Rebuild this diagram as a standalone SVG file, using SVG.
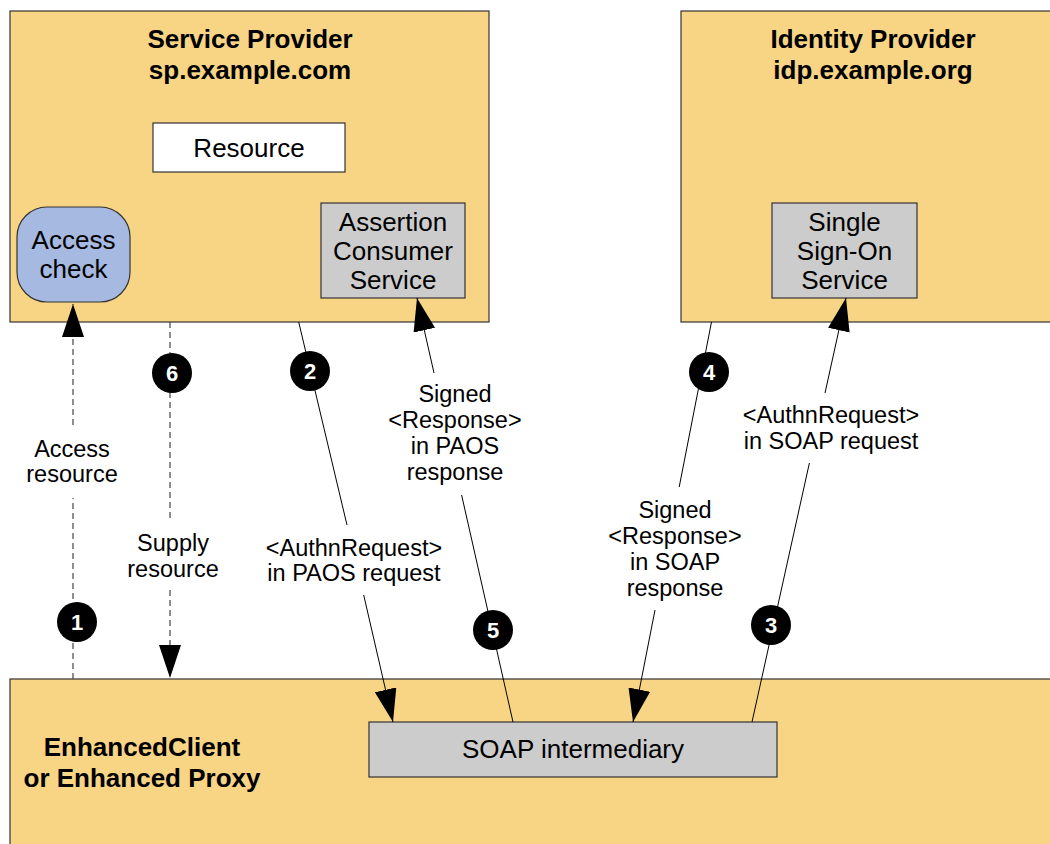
<svg xmlns="http://www.w3.org/2000/svg" width="1050" height="844" viewBox="0 0 1050 844">
<defs>
<style>
.box{fill:#f8d585;stroke:#333;stroke-width:1.2}
.svc{fill:#cccccc;stroke:#333;stroke-width:1.2}
.res{fill:#ffffff;stroke:#333;stroke-width:1.2}
.chk{fill:#a6b9e1;stroke:#333;stroke-width:1.2}
.title{font-family:"Liberation Sans",Arial,sans-serif;font-weight:bold;font-size:26px;fill:#000;text-anchor:middle}
.node{font-family:"Liberation Sans",Arial,sans-serif;font-size:26px;fill:#000;text-anchor:middle}
.lbl{font-family:"Liberation Sans",Arial,sans-serif;font-size:23.5px;fill:#000;text-anchor:middle}
.num{font-family:"Liberation Sans",Arial,sans-serif;font-weight:bold;font-size:22px;fill:#fff;text-anchor:middle}
.ln{fill:none;stroke:#000;stroke-width:1}
.dash{fill:none;stroke:#444;stroke-width:1.2;stroke-dasharray:6,4}
</style>
<marker id="arr" markerUnits="userSpaceOnUse" viewBox="0 0 33 22" markerWidth="33" markerHeight="22" refX="33" refY="11" orient="auto">
<path d="M0,0 L33,11 L0,22 z" fill="#000" stroke="none"/>
</marker>
</defs>
<rect width="1050" height="844" fill="#fff"/>

<g id="sp">
<rect class="box" x="10" y="11" width="479" height="311"/>
<text class="title" x="250" y="48">Service Provider</text>
<text class="title" x="250" y="79">sp.example.com</text>
</g>
<g id="idp">
<rect class="box" x="681" y="11" width="390" height="311"/>
<text class="title" x="873" y="48">Identity Provider</text>
<text class="title" x="873" y="79">idp.example.org</text>
</g>
<g id="client">
<rect class="box" x="10" y="679" width="1060" height="180"/>
<text class="title" x="142" y="756">EnhancedClient</text>
<text class="title" x="142" y="787">or Enhanced Proxy</text>
</g>
<g id="resource">
<rect class="res" x="153" y="123" width="192" height="49"/>
<text class="node" x="249" y="157">Resource</text>
</g>
<g id="access-check">
<rect class="chk" x="17" y="207" width="113" height="95" rx="30" ry="30"/>
<text class="node" x="73.5" y="249">Access</text>
<text class="node" x="73.5" y="278">check</text>
</g>
<g id="acs">
<rect class="svc" x="321" y="203" width="144" height="95"/>
<text class="node" x="393" y="231">Assertion</text>
<text class="node" x="393" y="260">Consumer</text>
<text class="node" x="393" y="289">Service</text>
</g>
<g id="sso">
<rect class="svc" x="772" y="203" width="145" height="95"/>
<text class="node" x="844.5" y="231">Single</text>
<text class="node" x="844.5" y="260">Sign-On</text>
<text class="node" x="844.5" y="289">Service</text>
</g>
<g id="soap">
<rect class="svc" x="369" y="722" width="408" height="55"/>
<text class="node" x="573" y="758">SOAP intermediary</text>
</g>

<g id="connectors">
<path class="dash" d="M73,679 L73,498 M73,425 L73,304" marker-end="url(#arr)"/>
<path class="dash" d="M170,322 L170,518 M170,590 L170,678" marker-end="url(#arr)"/>
<path class="ln" d="M298.7,322 L347,525 M363.7,595 L393,722" marker-end="url(#arr)"/>
<path class="ln" d="M513,722 L461.6,495 M434,373 L417,298" marker-end="url(#arr)"/>
<path class="ln" d="M711.5,322 L679.2,487 M655,610 L633,722" marker-end="url(#arr)"/>
<path class="ln" d="M752,722 L809.4,463 M825,393 L846,298" marker-end="url(#arr)"/>

<text class="lbl" x="72" y="457">Access</text>
<text class="lbl" x="72" y="482">resource</text>
<text class="lbl" x="173" y="551">Supply</text>
<text class="lbl" x="173" y="577">resource</text>
<text class="lbl" x="354" y="556">&lt;AuthnRequest&gt;</text>
<text class="lbl" x="354" y="581">in PAOS request</text>
<text class="lbl" x="455" y="402">Signed</text>
<text class="lbl" x="455" y="428">&lt;Response&gt;</text>
<text class="lbl" x="455" y="454">in PAOS</text>
<text class="lbl" x="455" y="480">response</text>
<text class="lbl" x="675" y="518">Signed</text>
<text class="lbl" x="675" y="544">&lt;Response&gt;</text>
<text class="lbl" x="675" y="570">in SOAP</text>
<text class="lbl" x="675" y="596">response</text>
<text class="lbl" x="831" y="423">&lt;AuthnRequest&gt;</text>
<text class="lbl" x="831" y="449">in SOAP request</text>

<g id="badge1"><circle cx="77" cy="622" r="20" fill="#000"/><text class="num" x="77" y="630">1</text></g>
<g id="badge2"><circle cx="310" cy="371" r="20" fill="#000"/><text class="num" x="310" y="379">2</text></g>
<g id="badge3"><circle cx="771" cy="625" r="20" fill="#000"/><text class="num" x="771" y="633">3</text></g>
<g id="badge4"><circle cx="709" cy="372" r="20" fill="#000"/><text class="num" x="709" y="380">4</text></g>
<g id="badge5"><circle cx="493" cy="630" r="20" fill="#000"/><text class="num" x="493" y="638">5</text></g>
<g id="badge6"><circle cx="172" cy="373" r="20" fill="#000"/><text class="num" x="172" y="381">6</text></g>
</g>
</svg>
